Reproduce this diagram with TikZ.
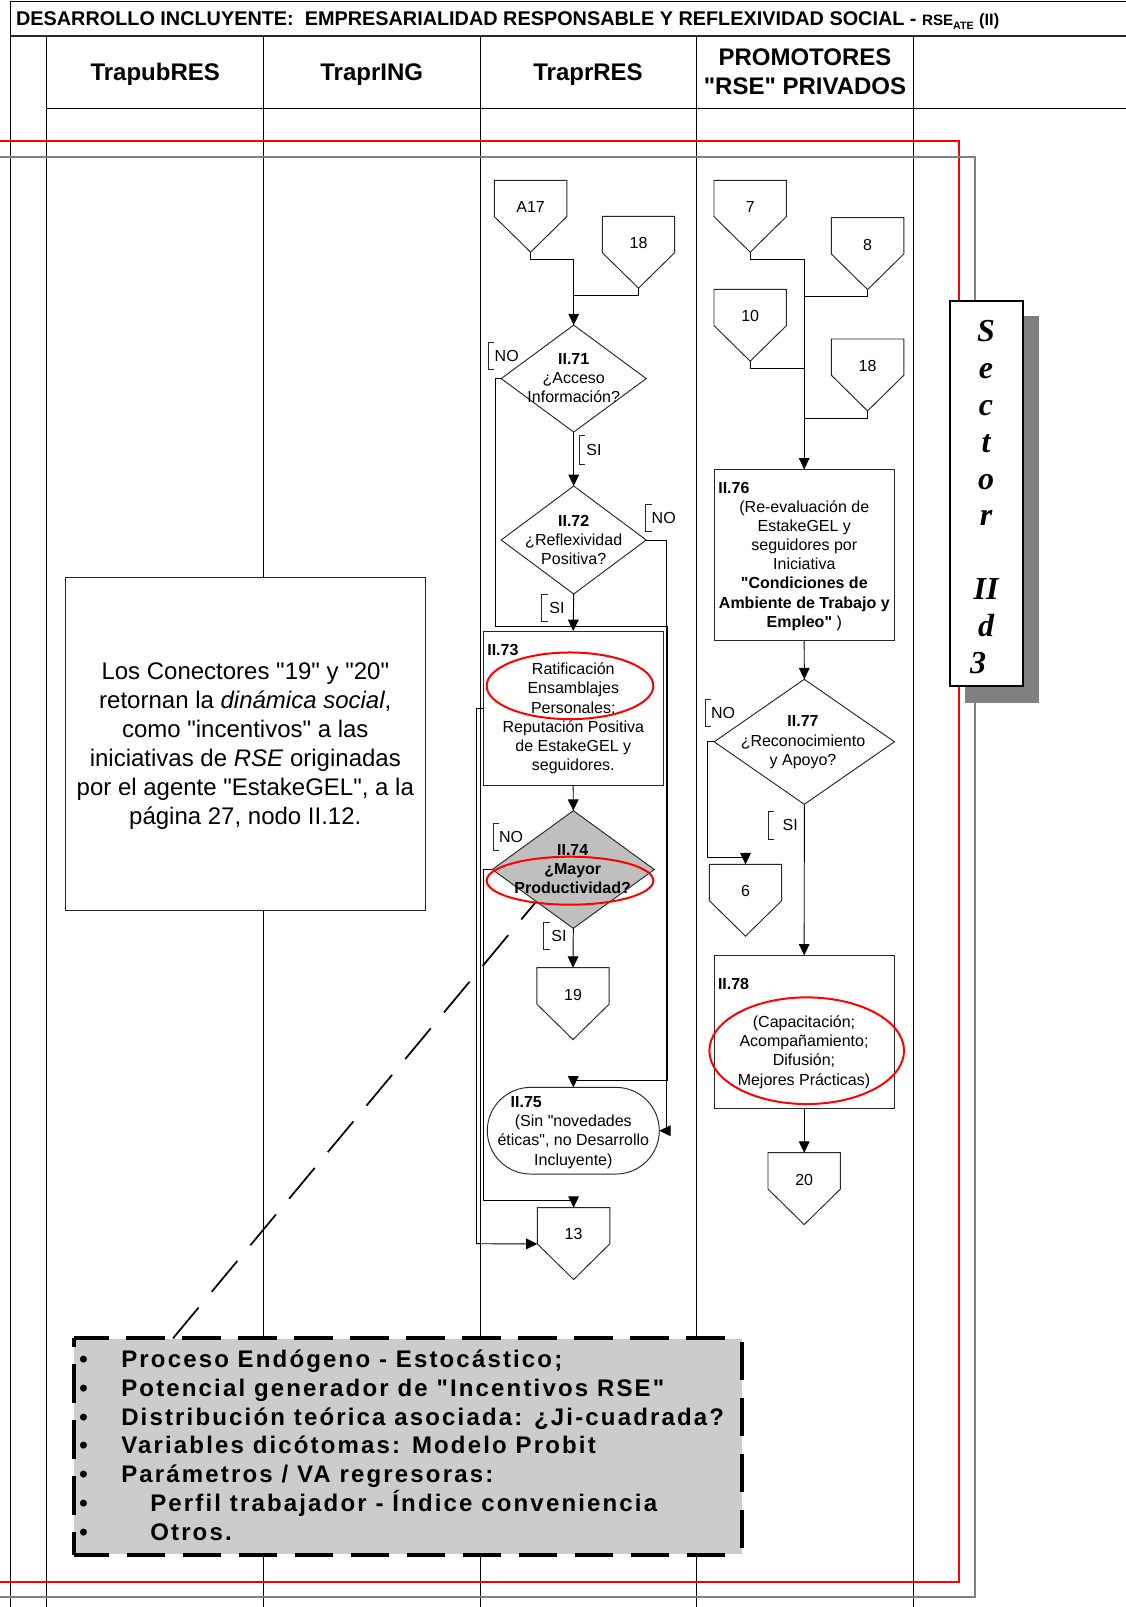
\documentclass[tikz,border=0pt]{standalone}
\usepackage{fontspec}
\usetikzlibrary{arrows.meta,shapes.geometric,shapes.misc,calc}
\setmainfont{Liberation Sans}[Ligatures=TeXOff]
\newfontfamily\sectorfont{Liberation Serif}
\newfontfamily\spacedfont[LetterSpace=9]{Liberation Sans}
\newcommand{\pentago}[4]{% name, left x, top y, text
  \draw[shapeline,fill=white] (#2,#3) -- ++(36.2,0) coordinate (#1-top) -- ++(36.2,0) -- ++(0,36.3)
    -- ++(-36.2,35.6) coordinate (#1-tip) -- ++(-36.2,-35.6) coordinate (#1-sl) -- cycle;
  \path (#2,#3) ++(36.2,26.8) node[flow] (#1) {#4};}
\newcommand{\brackt}[3]{% x, y1, y2
  \draw[shapeline] (#1,#2) ++(6,0) -- ++(-6,0) |- ++(6,#3-#2);}
\tikzset{
  shapeline/.style={draw=black!85,line width=.7pt},
  lane/.style={draw=black,line width=.75pt},
  conn/.style={draw=black,line width=.72pt},
  arr/.style={conn,-{Triangle[length=8.5pt,width=8pt]}},
  flow/.style={inner sep=0pt,outer sep=0pt,align=center,font=\fontsize{12pt}{14.4pt}\selectfont},
  label/.style={flow,anchor=west},
  head/.style={inner sep=0pt,align=center,font=\fontsize{18pt}{21.75pt}\selectfont\bfseries},
  dia/.style={shape=diamond,shapeline,fill=white,inner sep=0pt,outer sep=0pt},
  boxn/.style={shape=rectangle,shapeline,fill=white,inner sep=0pt,outer sep=0pt},
  redring/.style={draw=red,line width=1.5pt},
  gboxtext/.style={inner sep=0pt,anchor=base west,font=\fontsize{18pt}{20pt}\spacedfont\bfseries},
  thickdash/.style={draw=black,line width=3pt}
}
\begin{document}
\begin{tikzpicture}[x=0.75pt,y=-0.75pt]
\useasboundingbox (0,0) rectangle (1126,1607);
\fill[white] (0,0) rectangle (1126,1607);
% lanes
\foreach \lx in {10.8,46.7,263.7,480,696.5,913}
  \draw[lane] (\lx,36) -- (\lx,1607);
\draw[lane] (46.7,108.7) -- (1126,108.7);
% title
\draw[lane] (1126,1) -- (10.8,1) -- (10.8,36);
\draw[draw=black!85,line width=1.5pt] (10.8,36) -- (1126,36);
\node[inner sep=0pt,anchor=west,font=\fontsize{14.88pt}{17pt}\selectfont\bfseries] (title) at (15.8,20.6)
  {DESARROLLO INCLUYENTE:\ \ EMPRESARIALIDAD RESPONSABLE Y REFLEXIVIDAD SOCIAL - {\fontsize{11.3pt}{13pt}\selectfont RSE\raisebox{-.6ex}{\fontsize{8pt}{9pt}\selectfont ATE}} {\fontsize{12.3pt}{13pt}\selectfont (II)}};
\node[head] (h1) at (155.2,74.5) {TrapubRES};
\node[head] (h2) at (371.7,74.5) {TraprING};
\node[head] (h3) at (588,74.5) {TraprRES};
\node[head] (h4) at (805,72) {PROMOTORES\\"RSE" PRIVADOS};
% outer frames
\draw[draw=red,line width=1.3pt] (0,141) -- (959,141) -- (959,1581.7) -- (0,1581.7);
\draw[draw=black!50,line width=1.5pt] (0,156.7) -- (975,156.7) -- (975,1597.3) -- (0,1597.3);
% sector tag
\fill[black!50] (965,316) rectangle (1039,702.7);
\node[boxn,draw=black,line width=1.5pt,minimum width=54.5pt,minimum height=288.5pt] (sector) at (986.3,493.3) {};
\node[inner sep=0pt,align=center,font=\fontsize{24pt}{27.6pt}\sectorfont\bfseries\itshape] (sectxt) at (986,497)
  {S\\e\\c\\t\\o\\r\\~\\II\\d\\3\hspace*{12pt}};
% explanatory box
\node[boxn,minimum width=270.5pt,minimum height=250pt] (note) at (245.3,744) {};
\node[inner sep=0pt,align=center,font=\fontsize{18pt}{21.75pt}\selectfont] (notetxt) at (245.3,746.5)
  {Los Conectores "19" y "20"\\retornan la \textit{dinámica social},\\como "incentivos" a las\\iniciativas de \textit{RSE} originadas\\por el agente "EstakeGEL", a la\\página 27, nodo II.12.};
% off-page connectors
\pentago{a17}{494.4}{180.3}{A17}
\pentago{p18}{602.3}{216.3}{18}
\pentago{p7}{714}{180.3}{7}
\pentago{p8}{831.4}{217.7}{8}
\pentago{p10}{714}{289.3}{10}
\pentago{p18b}{831.4}{339}{18}
\pentago{p19}{536.8}{967.7}{19}
\pentago{p13}{537.4}{1207.6}{13}
\pentago{p6}{709.3}{864.3}{6}
\pentago{p20}{768}{1152.7}{20}
% decisions
\node[dia,minimum width=108.75pt,minimum height=80.25pt] (d71) at (573.7,378.6) {};
\node[dia,minimum width=108.75pt,minimum height=81pt] (d72) at (573.7,540) {};
\node[dia,fill=black!25,minimum width=121.5pt,minimum height=88.25pt] (d74) at (573.3,869.5) {};
\node[dia,minimum width=135.2pt,minimum height=93.75pt] (d77) at (804.3,741.8) {};
% process boxes
\node[boxn,minimum width=135.2pt,minimum height=115.5pt] (b73) at (573.2,708) {};
\node[boxn,minimum width=135.2pt,minimum height=128.5pt] (b76) at (804.2,555) {};
\node[boxn,minimum width=135.2pt,minimum height=115pt] (b78) at (804.2,1032) {};
\node[shape=rounded rectangle,shapeline,fill=white,inner sep=0pt,outer sep=0pt,minimum width=129pt,minimum height=65pt] (s75) at (573.3,1130.7) {};
% node texts
\node[flow] (t71) at (573.7,378.2) {\textbf{II.71}\\¿Acceso\\Información?};
\node[flow] (t72) at (573.7,540) {\textbf{II.72}\\¿Reflexividad\\Positiva?};
\node[label] (l73) at (487.3,650) {\textbf{II.73}};
\node[flow] (t73) at (573.3,718.5) {Ratificación\\Ensamblajes\\Personales;\\Reputación Positiva\\de EstakeGEL y\\seguidores.};
\node[flow,font=\fontsize{12pt}{14.4pt}\selectfont\bfseries] (t74) at (572.7,869.2) {II.74\\¿Mayor\\Productividad?};
\node[label] (l75) at (510.7,1101.7) {\textbf{II.75}};
\node[flow] (t75) at (573.3,1141.7) {(Sin "novedades\\éticas", no Desarrollo\\Incluyente)};
\node[label] (l76) at (718.3,487.7) {\textbf{II.76}};
\node[flow] (t76) at (804.3,565.5) {(Re-evaluación de\\EstakeGEL y\\seguidores por\\Iniciativa\\\textbf{"Condiciones de}\\\textbf{Ambiente de Trabajo y}\\\textbf{Empleo"} )};
\node[flow] (t77) at (803,742.2) {\textbf{II.77}\\¿Reconocimiento\\y Apoyo?};
\node[label] (l78) at (718,984) {\textbf{II.78}};
\node[flow] (t78) at (804,1052) {(Capacitación;\\Acompañamiento;\\Difusión;\\Mejores Prácticas)};
% NO / SI
\brackt{488.3}{342.3}{369.3}
\node[flow] (no71) at (506.7,356) {NO};
\brackt{579}{435.7}{464.3}
\node[flow] (si71) at (594,450) {SI};
\brackt{645.7}{504.3}{531.3}
\node[flow] (no72) at (663.7,518) {NO};
\brackt{541.7}{594}{621}
\node[flow] (si72) at (557,608) {SI};
\brackt{493.3}{823.3}{850.7}
\node[flow] (no74) at (511,837) {NO};
\brackt{543.7}{922.3}{949.7}
\node[flow] (si74) at (559,936) {SI};
\brackt{705.3}{699}{726.3}
\node[flow] (no77) at (723,712.5) {NO};
\brackt{768}{811.7}{839}
\node[flow] (si77) at (790.3,825) {SI};
% free corners of routed connectors
\coordinate (c71a) at (495,626);
\coordinate (c71b) at (667.5,626);
\coordinate (c71c) at (667.5,1080.7);
\coordinate (c72) at (666,1130.7);
\coordinate (c73) at (476.3,1243.7);
\coordinate (c74a) at (483.3,1200.7);
\coordinate (c77) at (707.3,857.7);
% connectors
\draw[conn] (a17-tip) -- ++(0,7) -| (d71.north);
\draw[arr] (p18-tip) -- ++(0,7.3) -| (d71.north);
\draw[arr] (d71.south) -- (d72.north);
\draw[arr] (d72.south) -- (b73.north);
\draw[arr] (b73.south) -- (d74.north);
\draw[arr] (d74.south) -- (p19-top);
\draw[conn] (d71.west) -| (c71a) -- (c71b) -- (c71c);
\draw[arr] (c71c) -| (s75.north);
\draw[conn] (d72.east) -| (c72);
\draw[arr] (c72) -- (s75.east);
\draw[conn] (d74.west) -| (c74a);
\draw[arr] (c74a) -| (p13-top);
\draw[conn] (b73.west) -| (c73);
\draw[arr] (c73) -- (p13-sl);
\draw[conn] (p7-tip) -- ++(0,7) -| (b76.north);
\draw[conn] (p8-tip) -- ++(0,7) -| (b76.north);
\draw[conn] (p10-tip) -- ++(0,7) -| (b76.north);
\draw[arr] (p18b-tip) -- ++(0,7.3) -| (b76.north);
\draw[arr] (b76.south) -- (d77.north);
\draw[arr] (d77.south) -- (b78.north);
\draw[arr] (b78.south) -- (p20-top);
\draw[conn] (d77.west) -| (c77);
\draw[arr] (c77) -| (p6-top);
% red rings
\node[shape=ellipse,redring,inner sep=0pt,minimum width=125pt,minimum height=50pt] (r73) at (570,685.8) {};
\node[shape=ellipse,redring,inner sep=0pt,minimum width=125pt,minimum height=36pt] (r74) at (570,880.7) {};
\node[shape=ellipse,redring,inner sep=0pt,minimum width=146pt,minimum height=80pt] (r78) at (806.7,1050.7) {};
% grey note
\coordinate (gnw) at (73.6,1338.3);
\node[anchor=north west,shape=rectangle,fill=black!20,inner sep=0pt,minimum width=501pt,minimum height=161.75pt] (gbox) at (gnw) {};
\coordinate (leader) at ($(gbox.north west)+(99.4,0)$);
\coordinate (ringfoot) at (535,903);
\draw[draw=black,line width=1.3pt,dash pattern=on 30pt off 15.4pt] (leader) -- (ringfoot);
\draw[thickdash,dash pattern=on 28.8pt off 13.2pt,dash phase=2.5pt] (gbox.north west) -- (gbox.north east);
\draw[thickdash,dash pattern=on 28.8pt off 13.2pt,dash phase=39.5pt] (gbox.north east) -- (gbox.south east);
\draw[thickdash,dash pattern=on 28.8pt off 13.2pt,dash phase=2pt] (gbox.south west) -- (gbox.south east);
\draw[thickdash,dash pattern=on 28.8pt off 13.2pt,dash phase=12pt] (gbox.south west) -- (gbox.north west);
\foreach \ly/\ind/\tx/\nm in {
  1367.5/121/{Proceso Endógeno - Estocástico;}/g1,
  1396.5/121/{Potencial generador de "Incentivos RSE"}/g2,
  1425/121/{Distribución teórica asociada: ¿Ji-cuadrada?}/g3,
  1453.5/121/{Variables dicótomas: Modelo Probit}/g4,
  1482.5/121/{Parámetros / VA regresoras:}/g5,
  1511/150/{Perfil trabajador - Índice conveniencia}/g6,
  1540/150/{Otros.}/g7}{
  \node[gboxtext] (\nm-b) at (79,\ly) {•};
  \node[gboxtext] (\nm) at (\ind,\ly) {\tx};
}
\end{tikzpicture}
\end{document}
